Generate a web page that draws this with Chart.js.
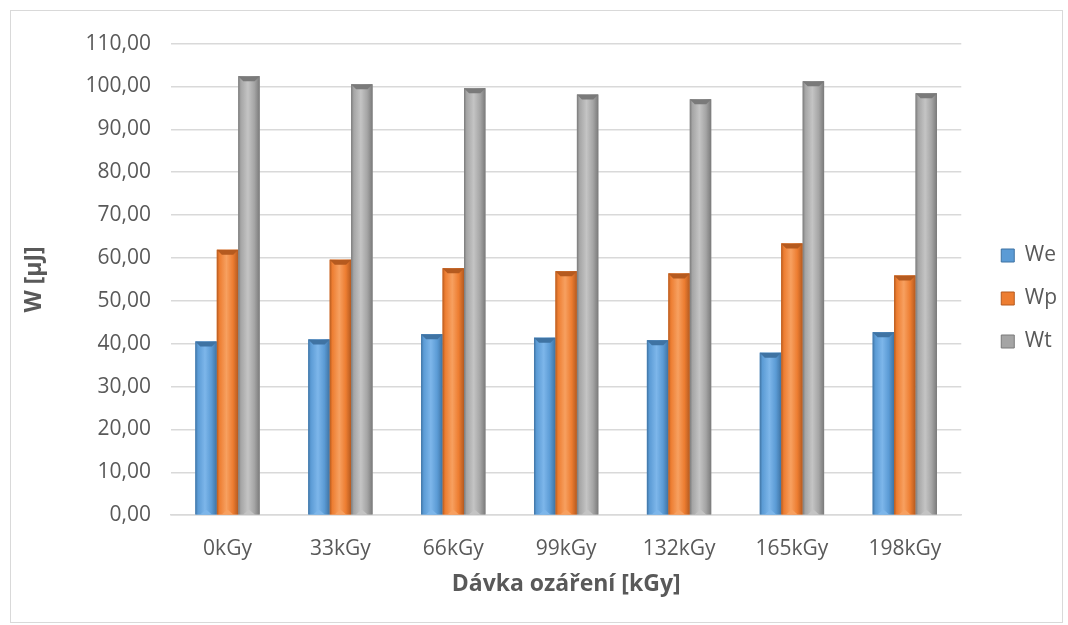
<!DOCTYPE html>
<html>
<head>
<meta charset="utf-8">
<script src="https://cdn.jsdelivr.net/npm/chart.js@4/dist/chart.umd.min.js"></script>
<style>
  body { margin: 0; background: #fff; }
  #wrap { position: absolute; left: 10px; top: 10px; width: 1051px; height: 611px; border: 1px solid #d9d9d9; }
</style>
</head>
<body>
<div id="wrap"><canvas id="chart"></canvas></div>
<script>
// categories and values
const doses = ['0kGy', '33kGy', '66kGy', '99kGy', '132kGy', '165kGy', '198kGy'];
const weValues = [40.5, 41.0, 42.2, 41.4, 40.8, 37.9, 42.7];
const wpValues = [61.9, 59.6, 57.6, 56.9, 56.4, 63.4, 55.9];
const wtValues = [102.4, 100.5, 99.6, 98.1, 97.0, 101.2, 98.4];
const yTicks = [0, 10, 20, 30, 40, 50, 60, 70, 80, 90, 100, 110];

const textColor = '#595959';
const fontFamily = '"Open Sans", "Liberation Sans", sans-serif';

// colour sets for each series: edge, base, highlight
const shades = [
  { dark: '#3f73a3', base: '#5b9bd5', light: '#7db6ea' },
  { dark: '#b55a1f', base: '#ed7d31', light: '#f7a060' },
  { dark: '#7a7a7a', base: '#a5a5a5', light: '#c4c4c4' },
];

// bevelled look over each bar, from the bar elements' own geometry
const bevelPlugin = {
  id: 'bevel',
  afterInit(chart) {
    // nudge the legend a bit further from the plot and up, like the original
    const lg = chart.legend;
    if (!lg) return;
    const fit = lg.fit;
    lg.fit = function () { fit.call(this); this.width += 12; };
    const draw = lg.draw;
    lg.draw = function () {
      const c = this.ctx;
      c.save();
      c.translate(18, -13);
      draw.call(this);
      c.restore();
    };
  },
  afterDatasetsDraw(chart) {
    const ctx = chart.ctx;
    chart.data.datasets.forEach((ds, i) => {
      const meta = chart.getDatasetMeta(i);
      const s = shades[i];
      meta.data.forEach(bar => {
        const w = bar.width;
        const left = bar.x - w / 2;
        const top = bar.y;
        const bottom = bar.base;
        const g = ctx.createLinearGradient(left, 0, left + w, 0);
        g.addColorStop(0, s.dark);
        g.addColorStop(0.12, s.base);
        g.addColorStop(0.45, s.light);
        g.addColorStop(0.75, s.base);
        g.addColorStop(1, s.dark);
        ctx.save();
        ctx.fillStyle = g;
        ctx.fillRect(left, top, w, bottom - top);
        const b = Math.min(5, w / 3);
        ctx.fillStyle = s.dark;
        ctx.beginPath();
        ctx.moveTo(left, top);
        ctx.lineTo(left + w, top);
        ctx.lineTo(left + w - b, top + b);
        ctx.lineTo(left + b, top + b);
        ctx.closePath();
        ctx.fill();
        ctx.fillStyle = s.light;
        ctx.beginPath();
        ctx.moveTo(left + b, bottom);
        ctx.lineTo(left + w / 2, bottom - b);
        ctx.lineTo(left + w - b, bottom);
        ctx.closePath();
        ctx.fill();
        ctx.restore();
      });
    });
  }
};

new Chart(document.getElementById('chart'), {
  type: 'bar',
  data: {
    labels: doses,
    datasets: [
      { label: 'We', data: weValues, backgroundColor: shades[0].base },
      { label: 'Wp', data: wpValues, backgroundColor: shades[1].base },
      { label: 'Wt', data: wtValues, backgroundColor: shades[2].base },
    ]
  },
  options: {
    responsive: true,
    maintainAspectRatio: false,
    animation: false,
    layout: { padding: { left: 6, right: 1, top: 14, bottom: 24 } },
    datasets: { bar: { categoryPercentage: 0.57, barPercentage: 1.0 } },
    plugins: {
      legend: {
        position: 'right',
        labels: {
          color: textColor,
          font: { family: fontFamily, size: 21 },
          boxWidth: 13,
          boxHeight: 13,
          padding: 22,
          generateLabels(chart) {
            return chart.data.datasets.map((ds, i) => ({
              text: ds.label,
              fillStyle: shades[i].base,
              strokeStyle: shades[i].dark,
              lineWidth: 1,
              fontColor: textColor,
              datasetIndex: i,
            }));
          }
        }
      },
      tooltip: { enabled: false }
    },
    scales: {
      x: {
        grid: { display: false, drawTicks: false },
        border: { color: '#d9d9d9', width: 1.5 },
        ticks: { color: textColor, font: { family: fontFamily, size: 21 }, padding: 21 },
        title: {
          display: true,
          text: 'Dávka ozáření [kGy]',
          color: textColor,
          font: { family: fontFamily, size: 23, weight: 'bold' },
          padding: { top: -12, bottom: 0 }
        }
      },
      y: {
        min: 0,
        max: 110,
        afterBuildTicks(axis) { axis.ticks = yTicks.map(v => ({ value: v })); },
        grid: { color: '#d9d9d9', lineWidth: 1.5, drawTicks: false },
        border: { display: false },
        ticks: {
          color: textColor,
          font: { family: fontFamily, size: 21 },
          padding: 20,
          callback: v => v.toFixed(2).replace('.', ',')
        },
        title: {
          display: true,
          text: 'W [µJ]',
          color: textColor,
          font: { family: fontFamily, size: 23, weight: 'bold' },
          padding: { bottom: 17 }
        }
      }
    }
  },
  plugins: [bevelPlugin]
});
</script>
</body>
</html>
